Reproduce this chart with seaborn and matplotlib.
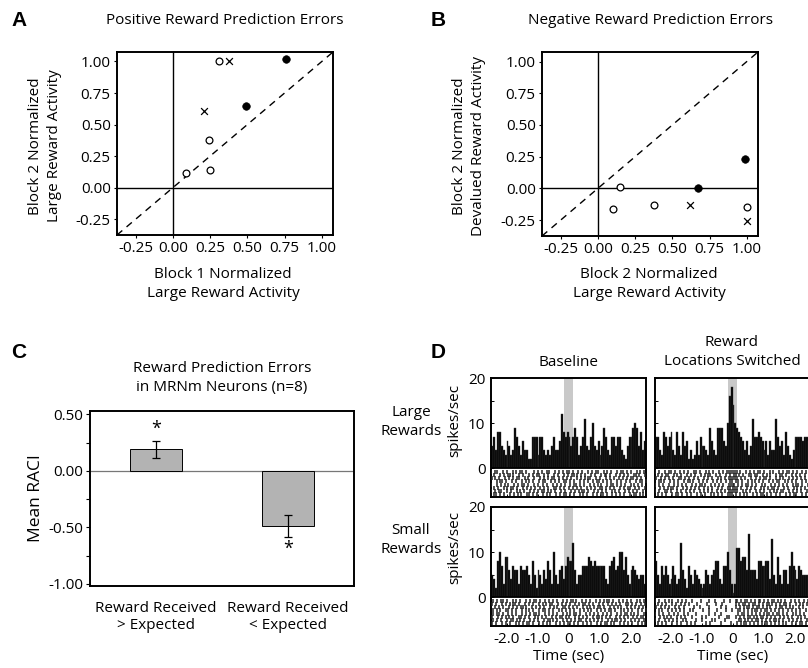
import numpy as np
import pandas as pd
import matplotlib
matplotlib.use("Agg")
import matplotlib.pyplot as plt
import seaborn as sns

# ---- Panel A: positive RPE (block 1 vs block 2 large reward activity)
a_x = [0.31, 0.38, 0.76, 0.49, 0.21, 0.24, 0.25, 0.09]
a_y = [1.00, 1.00, 1.02, 0.65, 0.61, 0.38, 0.14, 0.12]
a_kind = ["open", "cross", "filled", "filled", "cross", "open", "open", "open"]

# ---- Panel B: negative RPE
b_x = [0.15, 0.10, 0.38, 0.62, 0.67, 0.99, 1.00, 1.00]
b_y = [0.01, -0.16, -0.13, -0.13, 0.00, 0.23, -0.15, -0.26]
b_kind = ["open", "open", "open", "cross", "filled", "filled", "open", "cross"]

ab_ticks = [-0.25, 0.00, 0.25, 0.50, 0.75, 1.00]

# ---- Panel C: mean RACI
c_labels = ["Reward Received\n> Expected", "Reward Received\n< Expected"]
c_mean = [0.19, -0.49]
c_sem = [0.075, 0.095]

# ---- Panel D: peri-reward histograms (spikes/sec, 80 bins from -2.5 to 2.5 s)
psth_base_large = [5, 7, 4, 8, 8, 5, 4, 3, 6, 5, 3, 4, 9, 7, 5, 3, 6, 4, 4, 2,
                   2, 7, 7, 7, 3, 7, 7, 4, 3, 4, 3, 5, 7, 4, 4, 6, 12, 8, 7, 8,
                   7, 5, 7, 9, 7, 3, 5, 7, 11, 5, 4, 7, 10, 5, 4, 6, 3, 5, 9, 7,
                   4, 3, 7, 7, 5, 7, 7, 4, 3, 2, 5, 7, 7, 9, 10, 9, 5, 8, 4, 6]
psth_switch_large = [7, 7, 4, 3, 8, 7, 5, 7, 8, 4, 3, 8, 5, 3, 8, 5, 6, 2, 4, 2,
                     3, 6, 3, 7, 5, 5, 4, 3, 9, 6, 4, 3, 9, 9, 9, 6, 5, 10, 16, 18,
                     14, 10, 9, 8, 7, 6, 4, 6, 3, 5, 11, 7, 7, 8, 7, 6, 4, 6, 3, 6,
                     4, 4, 11, 7, 5, 6, 3, 8, 5, 3, 2, 4, 7, 7, 7, 7, 6, 7, 7, 6]
psth_base_small = [5, 4, 2, 8, 10, 7, 3, 9, 9, 6, 4, 7, 6, 6, 3, 7, 6, 6, 7, 5,
                   3, 8, 5, 2, 6, 5, 3, 6, 4, 8, 6, 3, 10, 5, 3, 6, 7, 4, 7, 9,
                   8, 8, 12, 6, 3, 5, 5, 7, 7, 7, 9, 8, 7, 8, 7, 7, 7, 7, 7, 4,
                   3, 7, 8, 9, 6, 7, 10, 10, 6, 9, 5, 3, 6, 7, 6, 5, 4, 5, 5, 3]
psth_switch_small = [8, 5, 3, 7, 5, 7, 5, 3, 4, 7, 5, 3, 4, 12, 6, 4, 2, 7, 5, 3,
                     6, 5, 4, 3, 2, 3, 6, 5, 3, 5, 6, 8, 8, 4, 3, 7, 7, 10, 6, 3,
                     1, 3, 11, 11, 8, 9, 9, 6, 14, 6, 6, 6, 4, 8, 8, 7, 7, 8, 8, 4,
                     13, 5, 3, 9, 5, 3, 6, 6, 3, 7, 10, 7, 6, 4, 7, 6, 5, 5, 5, 5]

# rasters: one string per trial, '#' = spike in that time bin
raster_base_large = [
    "#.##..#.#..#.#.##.#...#.#.#..##..#.#.#.##.#..#.#..#.#.##..#.#.#..#.##.#.#..#.#.#",
    ".#..#.#.##.#..#.#..#.#.##..#.#..#.#..#.#.##.#.#.#..#.#..#.##.#..#.#.#.#..##.#..#",
    "#.#.#..#.#.#.##..#.#..#..#.#.#.##..#.#.#.#..#.#.#.##..#.#..#.#.#..#.#.#.##.#.#..",
    "..#.##.#..#.#..#.#.#.#..#.##..#.#.#..##.#.#..#.#.#..#.##.#.#.#..#.#..#.#..#.##.#",
    "#..#.#.#.#..#.#.##.#..#.#..#.#..#.#.#.#..#.##.#.#..#.#.#.#..#.##.#.#.#..#.#.#.#.",
    ".#.#..#.#.##.#..#.#.#.#..#.#.#..##.#.#..#.#.#.#..#.#.#..##.#.#.#..#.#.##..#.#..#",
    "#.#.##..#.#..#.#.#..#.#.#.##.#.#.#..#.#..#.#.#.##.#..#.#.#.#..#.#.#..#.#.#.#..#.",
    ".##.#.#..#.#.#.#..##.#.#..#.#.#..#.#.##.#.#..#.#.#..#.#.##.#..#.#.#.#..#.##.#.#.",
]
raster_switch_large = [
    "#.#..#.##.#..#.#.#..##.#..#.#.#..#.#.#" + "####" + "#.#..#.#.#.##.#..#.#..#.#.##.#.#..#.#.",
    ".#.#.##..#.#.#..#.#.#..#.#.##..#.#..#." + "#.##" + ".#.#..##.##..#.#.#..#.##.#..#.#.#..#.#",
    "#..#.#.#.#..##.#.#..#.#..#.#.#..#.#.#." + "####" + "#.#.#..#..#.#.##.#..#.#.#..#.#.#.#.#..",
    ".##.#..#.#.#..#.##.#..#.#.#..#.#.#..#." + "##.#" + "#.#..#.#.#.#.#..#.#.##..#.#.#.#..#.#.#",
    "#.#.#..#..#.#.#.#..#.#.##.#..#.#.#.#.." + "####" + ".#.#.##.#.#..#.#..#.#.#.#.#..#.##.#..#",
    "..#.#.#.##.#..#.#.#.#.#..#.#.#..#.#..#" + "#.##" + "#.#..#.#.#..#.#.#.##.#..#.#..#.#.#.#..",
    "#.#..##.#..#.#..#.#.#..#.#.#.#..#.#.#." + "####" + "#..#.#.#..#.#.#..#.#.#.##..#.#.#.#..#.",
    ".#.#.#..#.##.#..#.#..#.#.#..#.#.#.#..#" + "##.#" + ".#.#.#..#.#.##.#.#..#.#..#.#.##..#.#.#",
]
raster_base_small = [
    ".#.#.##.#..#.#.#..#.#.##.#..#.#.#.#..#.#.##.#..#.#.#..#.#.#.##.#..#.#.#.#..#.#.#",
    "#.#..#.#.#.##.#..#.#.#..#.#.#.##..#.#.#.#..#.#.##.#.#..#.#..#.#.#.#..##.#.#..#.#",
    "..#.#.#..#.#.#.##.#..#.#.#.#..#.#.#..##.#.#.#..#.#.#.#.##.#..#.#.#.#..#.#.#.#.#.",
    "#.#.#..##.#.#..#.#.#.#..#.##.#.#..#.#.#.#.#..#.#.#.#..#.#.#.##.#..#.#.#.#..#.#.#",
    ".#.##.#..#.#.#..#.#.#.##.#..#.#.#.#..#.#.#.##.#..#.#.#.#..#.#.#..#.#.##.#.#.#..#",
    "#..#.#.#.#.#..##.#.#..#.#.#.#..#.#.##.#.#..#.#.#.#..#.##.#.#.#..#.#.#.#..#.#.##.",
    ".#.#.#..#.##.#.#.#..#.#.#..#.##.#.#..#.#.#.#.##..#.#.#.#.#..#.#.##.#.#..#.#.#..#",
    "#.#..#.#.#..#.#.#.##.#..#.#.#.#..#.#.#.##.#.#..#.#.#..#.#.##.#.#..#.#.#.#..#.#.#",
]
raster_switch_small = [
    "#.#..#.#.#..#.#.#..#....#...#..#....#." + ".#.." + "##.#.##.#.#.##.#.#.##.#.#.#..#.#.#..#.#",
    ".#.#.#..#.#..#.#.#...#....#....#..#..." + "...#" + ".#.##.#.##.#.#.##.#.#.#.##.#..#.#.#.#.",
    "#..#.#.#..#.#..#....#..#....#.....#..#" + "...." + "#.#.#.##.#.##.#.#.#..#.##.#.#.#..#.#..#",
    ".#.#..#.#.#.#.#..#.#....#..#...#....#." + ".#.." + "##.#.#.#.##.#.##.#.#.#.#..#.#.#.#..#.#",
    "#.#.#..#..#.#..#.#...#......#..#..#..." + "...." + ".#.##.#.#.#.#.#.##.#.##.#.#..#.#.#.#..",
    "..#.#.#.#..#.#.#...#....#.#......#...#" + "#..." + "#.#.#.##.#.#.##.#.#.#..#.#.#.#..#.#.#.#",
    "#.#..#.#.#.#..#.#....#..#....#.#....#." + "...." + ".##.#.#.#.##.#.#.#.##.#.#..#.#.#.#..#.",
    ".#.#.#..#..#.#..#.#.#.....#.#.....#..." + ".#.." + "#.#.##.#.#.#.#.##.#.#.#.#.#..#.#.##.#.#",
]

d_xticks = [-2.0, -1.0, 0.0, 1.0, 2.0]
d_xticklabels = ["-2.0", "-1.0", "0", "1.0", "2.0"]

W, H = 808, 668


def fx(x):
    return x / W


def fy(y):
    return 1 - y / H


def rect(left, top, right, bottom):
    return [fx(left), fy(bottom), (right - left) / W, (bottom - top) / H]


sns.set_theme(style="white")
plt.rcParams["font.family"] = ["Open Sans", "DejaVu Sans"]
plt.rcParams["axes.edgecolor"] = "black"
plt.rcParams["axes.labelcolor"] = "black"
plt.rcParams["axes.linewidth"] = 1.4
plt.rcParams["xtick.color"] = "black"
plt.rcParams["ytick.color"] = "black"
plt.rcParams["text.color"] = "black"

FS = 11
fig = plt.figure(figsize=(W / 100, H / 100), dpi=100)
fig.patch.set_facecolor("white")


def letter(x, y, s):
    fig.text(fx(x), fy(y), s, fontsize=15, fontweight="bold",
             family=["Liberation Sans", "DejaVu Sans"], ha="left", va="center")


def scatter_panel(ax, xs, ys, kinds):
    df = pd.DataFrame({"x": xs, "y": ys, "kind": kinds})
    lim = (-0.375, 1.075)
    ax.plot(lim, lim, color="black", lw=1.0, ls=(0, (5, 4)), zorder=1)
    ax.axhline(0, color="black", lw=1.0, zorder=1)
    ax.axvline(0, color="black", lw=1.0, zorder=1)
    sns.scatterplot(data=df[df.kind == "open"], x="x", y="y", ax=ax, s=24,
                    marker="o", facecolors="white", edgecolor="black",
                    linewidth=0.9, zorder=3)
    sns.scatterplot(data=df[df.kind == "filled"], x="x", y="y", ax=ax, s=30,
                    marker="o", color="black", edgecolor="black", zorder=3)
    sns.scatterplot(data=df[df.kind == "cross"], x="x", y="y", ax=ax, s=24,
                    marker="x", color="black", linewidth=0.9, zorder=3)
    ax.set_xlim(lim)
    ax.set_ylim(lim)
    ax.set_xticks(ab_ticks)
    ax.set_yticks(ab_ticks)
    ax.set_xticklabels([f"{t:.2f}" for t in ab_ticks])
    ax.set_yticklabels([f"{t:.2f}" for t in ab_ticks])
    ax.tick_params(labelsize=FS, length=2.5, width=0.8, pad=2,
                   bottom=True, left=True, direction="out")
    ax.set_xlabel("")
    ax.set_ylabel("")


# ---------------- A
axA = fig.add_axes(rect(117, 52, 333, 235))
scatter_panel(axA, a_x, a_y, a_kind)
letter(11, 20, "A")
fig.text(fx(225), fy(21), "Positive Reward Prediction Errors", fontsize=FS,
         ha="center", va="center")
fig.text(fx(223), fy(284), "Block 1 Normalized\nLarge Reward Activity", fontsize=FS,
         ha="center", va="center", linespacing=1.35)
fig.text(fx(45), fy(146), "Block 2 Normalized\nLarge Reward Activity", fontsize=FS,
         ha="center", va="center", rotation=90, linespacing=1.35)

# ---------------- B
axB = fig.add_axes(rect(542, 52, 758, 236))
scatter_panel(axB, b_x, b_y, b_kind)
letter(431, 20, "B")
fig.text(fx(651), fy(21), "Negative Reward Prediction Errors", fontsize=FS,
         ha="center", va="center")
fig.text(fx(649), fy(284), "Block 2 Normalized\nLarge Reward Activity", fontsize=FS,
         ha="center", va="center", linespacing=1.35)
fig.text(fx(469), fy(146), "Block 2 Normalized\nDevalued Reward Activity", fontsize=FS,
         ha="center", va="center", rotation=90, linespacing=1.35)

# ---------------- C
axC = fig.add_axes(rect(90, 411, 354, 586))
dfc = pd.DataFrame({"cond": c_labels, "raci": c_mean})
axC.axhline(0, color="#777777", lw=0.9, zorder=1)
sns.barplot(data=dfc, x="cond", y="raci", ax=axC, color="#b3b3b3", width=0.4,
            edgecolor="black", linewidth=0.7, saturation=1, zorder=2)
axC.errorbar(range(len(c_mean)), c_mean, yerr=c_sem, fmt="none", ecolor="black",
             elinewidth=0.9, capsize=3, capthick=0.9, zorder=3)
for i, (m, e) in enumerate(zip(c_mean, c_sem)):
    if m > 0:
        axC.text(i, m + e + 0.03, "*", ha="center", va="bottom", fontsize=13)
    else:
        axC.text(i, m - e - 0.03, "*", ha="center", va="top", fontsize=13)
axC.set_xlim(-0.5, 1.5)
axC.set_ylim(-1.02, 0.53)
axC.set_yticks([0.5, 0.0, -0.5, -1.0])
axC.set_yticklabels(["0.50", "0.00", "-0.50", "-1.00"])
axC.set_yticks([0.25, -0.25, -0.75], minor=True)
axC.tick_params(axis="y", which="both", left=True, direction="out", length=3,
                width=0.8, labelsize=FS, pad=2)
axC.tick_params(axis="x", bottom=False, labelsize=FS, pad=5)
axC.set_xlabel("")
axC.set_ylabel("Mean RACI", fontsize=12.5, labelpad=3)
letter(11, 353, "C")
fig.text(fx(222), fy(378), "Reward Prediction Errors\nin MRNm Neurons (n=8)",
         fontsize=FS, ha="center", va="center", linespacing=1.3)

# ---------------- D
n_bins = 80
bin_w = 5.0 / n_bins
centers = -2.5 + bin_w * (np.arange(n_bins) + 0.5)
d_ylim = (-6.44, 20)
row_shift = [0.1, 0.6, 0.3, 0.85, 0.0, 0.5, 0.2, 0.7]

d_panels = [
    (rect(491, 378, 646, 497), psth_base_large, raster_base_large, True, False),
    (rect(655, 378, 810, 497), psth_switch_large, raster_switch_large, False, False),
    (rect(491, 507, 646, 626), psth_base_small, raster_base_small, True, True),
    (rect(655, 507, 810, 626), psth_switch_small, raster_switch_small, False, True),
]

for pos, counts, raster, show_y, show_x in d_panels:
    ax = fig.add_axes(pos)
    band_lo = (0 - d_ylim[0]) / (d_ylim[1] - d_ylim[0])
    ax.axvspan(-0.15, 0.15, ymin=band_lo, ymax=1, color="#c9c9c9", lw=0, zorder=0)
    dfh = pd.DataFrame({"t": centers, "rate": counts})
    sns.histplot(data=dfh, x="t", weights="rate", binwidth=bin_w,
                 binrange=(-2.5, 2.5), ax=ax, color="black", alpha=1,
                 edgecolor="#3a3a3a", linewidth=0.3, zorder=2)
    # raster ticks, rows staggered a little so the columns don't line up
    rx, ry = [], []
    for r, row in enumerate(raster):
        w = 5.0 / len(row)
        for j, ch in enumerate(row):
            if ch == "#":
                rx.append(-2.5 + (j + row_shift[r % len(row_shift)]) * w)
                ry.append(-0.8 - r * 0.72)
    sns.scatterplot(x=rx, y=ry, ax=ax, marker="|", s=5, color="#222222",
                    linewidth=1.1, zorder=3)
    ax.axhline(0, color="black", lw=1.3, zorder=4)
    ax.set_xlim(-2.5, 2.5)
    ax.set_ylim(d_ylim)
    ax.set_yticks([0, 10, 20])
    ax.set_yticks([5, 15], minor=True)
    ax.set_xticks(d_xticks)
    ax.tick_params(axis="both", which="both", direction="in", length=2, width=0.7,
                   left=True, bottom=True, labelsize=FS, pad=4)
    ax.set_ylabel("")
    ax.set_xlabel("")
    if show_y:
        ax.set_yticklabels(["0", "10", "20"])
    else:
        ax.set_yticklabels([])
    if show_x:
        ax.set_xticklabels(d_xticklabels)
        ax.set_xlabel("Time (sec)", fontsize=FS, labelpad=2)
    else:
        ax.set_xticklabels([])

letter(431, 353, "D")
fig.text(fx(568), fy(362), "Baseline", fontsize=FS, ha="center", va="center")
fig.text(fx(732), fy(352), "Reward\nLocations Switched", fontsize=FS,
         ha="center", va="center", linespacing=1.3)
fig.text(fx(411), fy(422), "Large\nRewards", fontsize=FS, ha="center",
         va="center", linespacing=1.3)
fig.text(fx(411), fy(540), "Small\nRewards", fontsize=FS, ha="center",
         va="center", linespacing=1.3)
fig.text(fx(455), fy(420), "spikes/sec", fontsize=FS, ha="center",
         va="center", rotation=90)
fig.text(fx(455), fy(547), "spikes/sec", fontsize=FS, ha="center",
         va="center", rotation=90)

fig.savefig("out.png", dpi=100, facecolor="white")
plt.close(fig)
